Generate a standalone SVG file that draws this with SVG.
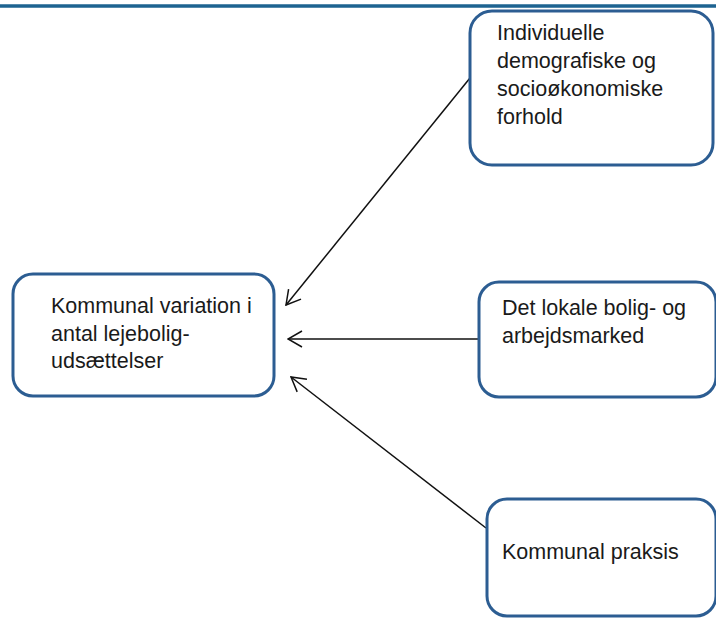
<svg xmlns="http://www.w3.org/2000/svg" width="716" height="618" viewBox="0 0 716 618">
<style>
.box{fill:#ffffff;stroke:#2c5d92;stroke-width:3}
.t{font-family:"Liberation Sans",Arial,sans-serif;font-size:21.5px;fill:#1a1a1a}
.c{stroke:#111;stroke-width:1.5;fill:none;marker-end:url(#ah)}
</style>
<defs>
<marker id="ah" markerUnits="userSpaceOnUse" markerWidth="16" markerHeight="18" viewBox="-1 -1 16 18" refX="14" refY="8" orient="auto">
<path d="M0,0 L14,8 L0,16" fill="none" stroke="#111" stroke-width="1.5"/>
</marker>
</defs>
<rect width="716" height="618" fill="#ffffff"/>
<line x1="0" y1="6" x2="716" y2="6" stroke="#1d6391" stroke-width="3.5"/>
<g id="connectors">
<line class="c" x1="470" y1="78" x2="286" y2="305"/>
<line class="c" x1="479" y1="339" x2="288" y2="339"/>
<line class="c" x1="486" y1="528" x2="291" y2="377"/>
</g>
<g id="node-individuelle">
<rect class="box" x="470" y="11" width="243" height="154" rx="22"/>
<text class="t" x="497" y="40">Individuelle</text>
<text class="t" x="497" y="68">demografiske og</text>
<text class="t" x="497" y="96">socioøkonomiske</text>
<text class="t" x="497" y="124">forhold</text>
</g>
<g id="node-kommunal-variation">
<rect class="box" x="13" y="274" width="261" height="122" rx="20"/>
<text class="t" x="51" y="313">Kommunal variation i</text>
<text class="t" x="51" y="341">antal lejebolig-</text>
<text class="t" x="51" y="368">udsættelser</text>
</g>
<g id="node-lokale">
<rect class="box" x="479" y="282" width="237" height="115" rx="20"/>
<text class="t" x="502" y="315">Det lokale bolig- og</text>
<text class="t" x="502" y="343">arbejdsmarked</text>
</g>
<g id="node-praksis">
<rect class="box" x="487" y="499" width="229" height="117" rx="20"/>
<text class="t" x="502" y="559">Kommunal praksis</text>
</g>
</svg>
